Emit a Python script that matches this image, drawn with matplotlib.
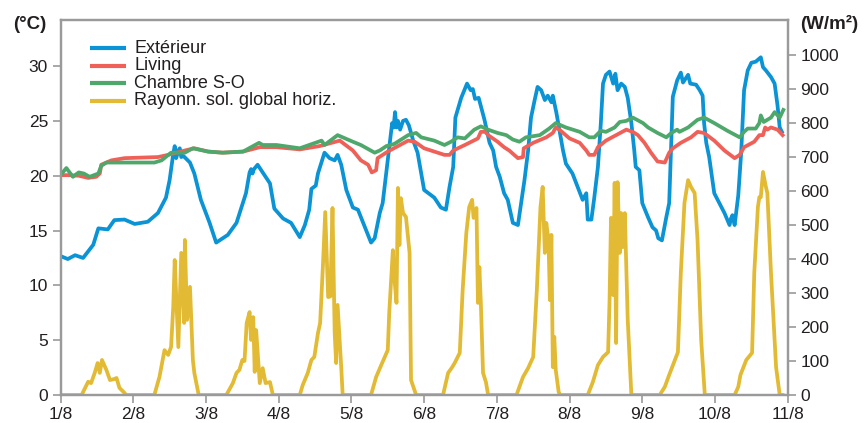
import matplotlib
matplotlib.use("Agg")
import matplotlib.pyplot as plt

plt.rcParams['font.family'] = ['Liberation Sans', 'DejaVu Sans']

# days since 1/8 and values
ext_day = [0, 0.1, 0.2, 0.31, 0.45, 0.52, 0.65, 0.74, 0.88, 1.02, 1.2, 1.34, 1.45, 1.5, 1.55, 1.57, 1.59, 1.62,
           1.64, 1.66, 1.69, 1.72, 1.78, 1.84, 1.93, 2.05, 2.14, 2.3, 2.42, 2.55, 2.6, 2.62, 2.64, 2.66, 2.71, 2.74,
           2.88, 2.94, 3.06, 3.17, 3.29, 3.36, 3.42, 3.45, 3.51, 3.54, 3.63, 3.7, 3.77, 3.81, 3.86, 3.93, 4.02,
           4.09, 4.27, 4.32, 4.39, 4.43, 4.48, 4.52, 4.56, 4.58, 4.6, 4.62, 4.64, 4.67, 4.71, 4.75, 4.79, 4.85,
           4.91, 4.96, 5.0, 5.14, 5.23, 5.3, 5.35, 5.4, 5.43, 5.51, 5.59, 5.64, 5.67, 5.7, 5.75, 5.83, 5.9, 5.95,
           5.99, 6.04, 6.1, 6.15, 6.22, 6.29, 6.38, 6.43, 6.47, 6.52, 6.56, 6.61, 6.66, 6.7, 6.75, 6.77, 6.82,
           6.86, 6.91, 6.95, 7.04, 7.11, 7.18, 7.23, 7.25, 7.3, 7.34, 7.39, 7.43, 7.46, 7.5, 7.55, 7.6, 7.63,
           7.66, 7.71, 7.76, 7.8, 7.85, 7.89, 7.91, 7.96, 8.0, 8.08, 8.14, 8.19, 8.22, 8.27, 8.33, 8.37, 8.4,
           8.42, 8.48, 8.53, 8.56, 8.6, 8.63, 8.66, 8.74, 8.79, 8.83, 8.85, 8.88, 8.92, 8.99, 9.06, 9.13, 9.2,
           9.22, 9.24, 9.27, 9.32, 9.34, 9.36, 9.4, 9.45, 9.5, 9.56, 9.63, 9.66, 9.7, 9.77, 9.82, 9.86, 9.89, 9.92]
ext_temp = [12.67, 12.4, 12.75, 12.5, 13.7, 15.2, 15.1, 15.95, 16.0, 15.6, 15.8, 16.6, 18.0, 19.6, 22.0, 22.7, 21.6,
            22.3, 22.5, 21.7, 21.8, 21.6, 21.2, 20.2, 17.8, 15.7, 13.9, 14.6, 15.7, 18.4, 20.3, 20.6, 20.2, 20.6,
            21.0, 20.7, 19.3, 17.0, 16.1, 15.7, 14.4, 15.5, 16.9, 18.8, 19.1, 20.2, 22.1, 21.6, 21.4, 21.9, 21.0,
            18.7, 17.1, 16.9, 13.9, 14.3, 16.6, 17.5, 20.3, 22.6, 24.8, 24.4, 25.8, 24.4, 25.0, 24.2, 25.0, 25.1,
            24.6, 23.2, 22.1, 20.2, 18.7, 18.0, 17.1, 16.9, 19.0, 20.8, 25.3, 27.1, 28.4, 27.8, 27.9, 27.0, 27.1,
            25.1, 23.0, 22.3, 20.8, 19.9, 18.4, 17.8, 15.7, 15.5, 19.6, 22.3, 25.3, 26.9, 28.1, 27.8, 26.9, 27.3,
            26.7, 27.3, 25.7, 24.2, 22.3, 21.1, 20.2, 19.0, 17.8, 18.4, 16.0, 16.0, 18.0, 20.8, 24.8, 28.4, 29.2,
            29.5, 28.4, 29.3, 27.8, 28.4, 28.1, 27.1, 24.8, 22.3, 20.8, 20.5, 17.5, 16.2, 15.3, 15.0, 14.3, 14.1,
            16.2, 17.5, 23.2, 27.2, 28.7, 29.4, 28.5, 28.9, 29.2, 28.4, 28.3, 27.8, 27.3, 24.8, 23.0, 21.7, 18.4,
            17.5, 16.6, 15.5, 16.1, 16.4, 15.5, 18.2, 20.2, 22.1, 27.8, 29.6, 30.3, 30.4, 30.8, 29.9, 29.6, 29.0,
            28.4, 26.4, 24.4, 24.0]

liv_day = [0, 0.1, 0.25, 0.38, 0.49, 0.54, 0.56, 0.7, 0.88, 1.34, 1.48, 1.71, 1.84, 2.03, 2.23, 2.51, 2.74, 2.97,
           3.29, 3.56, 3.84, 4.02, 4.13, 4.23, 4.28, 4.34, 4.36, 4.5, 4.64, 4.78, 4.87, 5.0, 5.14, 5.28, 5.35,
           5.4, 5.56, 5.74, 5.78, 5.84, 5.88, 6.01, 6.1, 6.17, 6.29, 6.36, 6.37, 6.5, 6.68, 6.77, 6.81, 6.86,
           7.0, 7.14, 7.23, 7.27, 7.34, 7.39, 7.5, 7.64, 7.78, 7.87, 7.94, 8.03, 8.12, 8.21, 8.31, 8.37, 8.42,
           8.53, 8.67, 8.76, 8.85, 8.99, 9.13, 9.27, 9.34, 9.4, 9.54, 9.61, 9.66, 9.69, 9.72, 9.77, 9.86, 9.93]
liv_temp = [20.05, 20.05, 20.0, 19.8, 19.9, 20.2, 21.0, 21.4, 21.6, 21.7, 21.9, 22.3, 22.5, 22.2, 22.1, 22.2, 22.6,
            22.6, 22.4, 22.7, 23.2, 22.3, 21.4, 21.0, 20.3, 20.5, 21.6, 22.2, 22.7, 23.2, 23.1, 22.5, 22.2, 21.9,
            21.9, 22.3, 22.8, 23.4, 24.0, 24.0, 23.7, 23.1, 22.6, 22.3, 21.6, 21.7, 22.5, 23.0, 23.5, 23.9, 24.4,
            24.2, 23.4, 23.0, 22.3, 21.9, 21.9, 22.6, 23.2, 23.7, 24.2, 24.0, 23.7, 23.0, 22.1, 21.3, 21.2, 22.1,
            22.5, 23.0, 23.5, 24.0, 23.9, 23.2, 22.3, 21.6, 21.9, 22.6, 23.1, 23.7, 23.7, 24.4, 24.2, 24.4, 24.2,
            23.7]

ch_day = [0, 0.08, 0.17, 0.25, 0.32, 0.4, 0.52, 0.56, 0.63, 0.74, 1.29, 1.39, 1.52, 1.71, 1.82, 2.03, 2.23, 2.51,
          2.73, 2.78, 2.97, 3.29, 3.59, 3.63, 3.81, 4.02, 4.13, 4.32, 4.39, 4.48, 4.59, 4.78, 4.89, 4.96, 5.14,
          5.28, 5.37, 5.46, 5.56, 5.69, 5.78, 5.88, 6.01, 6.13, 6.22, 6.31, 6.4, 6.59, 6.72, 6.81, 6.95, 7.14,
          7.27, 7.34, 7.43, 7.5, 7.62, 7.69, 7.78, 7.87, 8.01, 8.08, 8.21, 8.33, 8.4, 8.48, 8.51, 8.63, 8.76,
          8.85, 8.99, 9.17, 9.34, 9.4, 9.45, 9.56, 9.61, 9.63, 9.67, 9.77, 9.82, 9.89, 9.94]
ch_temp = [20.05, 20.7, 19.9, 20.3, 20.2, 19.9, 20.2, 20.9, 21.2, 21.2, 21.2, 21.4, 22.1, 22.1, 22.5, 22.2, 22.1,
           22.2, 23.0, 22.8, 22.8, 22.5, 23.2, 22.8, 23.7, 23.1, 22.8, 22.1, 22.3, 22.7, 22.9, 23.7, 23.9, 23.5,
           23.2, 22.8, 23.1, 23.5, 23.4, 24.2, 24.5, 24.2, 23.9, 23.7, 23.3, 23.1, 23.5, 23.7, 24.3, 24.8, 24.4,
           24.0, 23.5, 23.5, 24.1, 24.0, 24.4, 24.9, 25.0, 25.3, 24.8, 24.4, 23.9, 23.5, 23.9, 24.2, 24.0, 24.4,
           25.1, 25.3, 24.8, 24.1, 23.5, 24.0, 24.3, 24.3, 24.8, 25.5, 24.9, 25.3, 25.8, 25.3, 26.0]

ray_day = [0, 0.29, 0.38, 0.42, 0.47, 0.51, 0.54, 0.57, 0.63, 0.68, 0.74, 0.77, 0.81, 0.88, 0.9,
           1.29, 1.36, 1.43, 1.48, 1.52, 1.55, 1.57, 1.62, 1.66, 1.7, 1.71, 1.74, 1.78, 1.82, 1.84, 1.9,
           2.28, 2.37, 2.42, 2.46, 2.5, 2.53, 2.56, 2.6, 2.62, 2.65, 2.67, 2.69, 2.74, 2.78, 2.82, 2.88, 2.92,
           3.29, 3.33, 3.4, 3.45, 3.49, 3.54, 3.57, 3.61, 3.64, 3.68, 3.71, 3.74, 3.77, 3.79, 3.81, 3.86, 3.88,
           4.27, 4.34, 4.41, 4.5, 4.52, 4.57, 4.59, 4.62, 4.64, 4.66, 4.68, 4.71, 4.75, 4.8, 4.82, 4.89,
           5.26, 5.33, 5.38, 5.42, 5.49, 5.53, 5.58, 5.62, 5.66, 5.68, 5.72, 5.74, 5.76, 5.78, 5.81, 5.85, 5.88,
           6.27, 6.36, 6.43, 6.5, 6.55, 6.6, 6.63, 6.66, 6.68, 6.71, 6.73, 6.75, 6.77, 6.79, 6.81, 6.85, 6.87,
           7.25, 7.32, 7.39, 7.46, 7.53, 7.55, 7.57, 7.6, 7.62, 7.64, 7.66, 7.69, 7.71, 7.73, 7.76, 7.8, 7.85,
           8.24, 8.31, 8.37, 8.49, 8.53, 8.58, 8.63, 8.67, 8.72, 8.76, 8.81, 8.86,
           9.27, 9.32, 9.35, 9.43, 9.51, 9.54, 9.59, 9.61, 9.63, 9.66, 9.7, 9.72, 9.77, 9.84, 9.89, 9.93]
ray_wm2 = [0, 0, 39, 35, 65, 94, 65, 103, 74, 44, 47, 50, 21, 6, 0,
           0, 53, 132, 118, 141, 259, 397, 141, 418, 212, 456, 221, 318, 103, 65, 0,
           0, 35, 65, 74, 103, 100, 212, 244, 162, 229, 68, 191, 35, 79, 35, 38, 0,
           0, 29, 65, 103, 112, 182, 212, 388, 538, 288, 290, 550, 182, 94, 265, 82, 0,
           0, 53, 88, 132, 241, 426, 347, 271, 609, 441, 579, 535, 524, 418, 44, 0,
           0, 65, 80, 94, 124, 309, 476, 553, 574, 521, 550, 271, 376, 271, 65, 38, 0,
           0, 53, 79, 112, 309, 553, 612, 418, 506, 456, 279, 471, 82, 171, 74, 9, 0,
           0, 38, 88, 112, 126, 279, 521, 294, 624, 153, 626, 418, 535, 435, 535, 221, 0,
           0, 24, 59, 126, 359, 565, 632, 612, 594, 456, 162, 0,
           0, 24, 59, 103, 124, 359, 553, 582, 582, 656, 612, 594, 359, 82, 0, 0]

day_labels = ['1/8', '2/8', '3/8', '4/8', '5/8', '6/8', '7/8', '8/8', '9/8', '10/8', '11/8']
names = ['Extérieur', 'Living', 'Chambre S-O', 'Rayonn. sol. global horiz.']
colors = ['#0a93d5', '#ef6058', '#4ea86b', '#e2ba33']

grey = '#9a9a9a'
txt = '#231f20'

fig = plt.figure(figsize=(8.66, 4.23), dpi=100)
fig.patch.set_facecolor('white')
ax = fig.add_axes([0.0699, 0.0662, 0.8397, 0.8865])
ax2 = ax.twinx()
# background on the radiation axes, temperatures drawn on top
ax.set_zorder(ax2.get_zorder() + 1)
ax.patch.set_visible(False)
ax2.patch.set_facecolor('#fefbe8')

lw = 2.7
ax2.plot(ray_day, ray_wm2, color=colors[3], lw=lw, solid_joinstyle='round')
ax.plot(ext_day, ext_temp, color=colors[0], lw=lw, solid_joinstyle='round')
ax.plot(liv_day, liv_temp, color=colors[1], lw=lw, solid_joinstyle='round')
ax.plot(ch_day, ch_temp, color=colors[2], lw=lw, solid_joinstyle='round')

ax.set_xlim(0, 10)
ax.set_ylim(0, 34.2)
ax2.set_ylim(0, 1103)
ax.set_xticks(range(11))
ax.set_xticklabels(day_labels)
ax.set_yticks(range(0, 31, 5))
ax2.set_yticks(range(0, 1001, 100))

for a in (ax, ax2):
    for s in a.spines.values():
        s.set_color(grey)
        s.set_linewidth(1.6)
    a.tick_params(colors=grey, labelcolor=txt, labelsize=12.5, length=6, width=1.2, pad=3)

# legend drawn by hand to match the tight spacing
for i, (n, c) in enumerate(zip(names, colors)):
    y = 0.925 - i * 0.0467
    ax.plot([0.041, 0.0905], [y, y], transform=ax.transAxes, color=c, lw=3, solid_capstyle='butt')
    ax.text(0.1015, y, n, transform=ax.transAxes, fontsize=13, color=txt, va='center', ha='left')

fig.text(0.034, 0.943, '(°C)', fontsize=13.5, fontweight='bold', color=txt, ha='center', va='center')
fig.text(0.958, 0.943, '(W/m²)', fontsize=13.5, fontweight='bold', color=txt, ha='center', va='center')

fig.savefig('out.png', dpi=100)
